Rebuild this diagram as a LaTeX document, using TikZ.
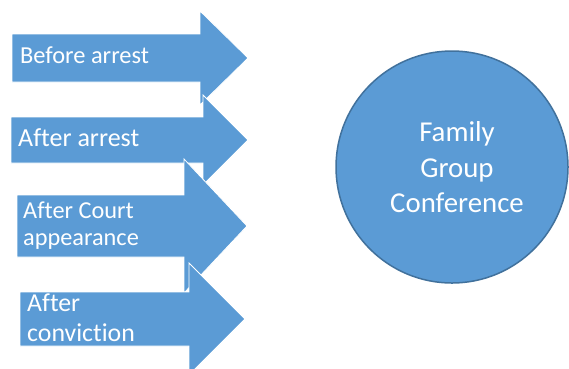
\documentclass[tikz,border=0pt]{standalone}
\usepackage{fontspec}
\setmainfont[Ligatures=NoCommon]{Carlito}
\definecolor{accent}{HTML}{5B9BD5}
\definecolor{accentdark}{HTML}{41719C}
\tikzset{
  arrowshape/.style={fill=accent, draw=white, line width=0.8pt, line join=miter},
  lbl/.style={text=white, inner sep=0pt, align=left},
}
\newcommand{\fatarrow}[7]{% left, top, bottom, headx, headtop, headbottom, tipx
  \draw[arrowshape] (#1,#2) -- (#4,#2) -- (#4,#5) -- (#7,{(#2+#3)/2}) -- (#4,#6) -- (#4,#3) -- (#1,#3) -- cycle;}
\begin{document}
\begin{tikzpicture}[x=1pt,y=-1pt]
\useasboundingbox (0,0) rectangle (569,368);
% arrows
\fatarrow{12}{34}{82}{200}{11}{105}{248}
\fatarrow{11}{117}{163}{203}{95}{185}{248}
\fatarrow{17}{195}{257}{184}{159}{293}{247}
\fatarrow{20}{292}{346}{189}{263}{375}{245}
% labels
\node[lbl, anchor=base west, font=\fontsize{24.4}{28}\selectfont] (l1) at (20,63) {Before arrest};
\node[lbl, anchor=base west, font=\fontsize{26}{30}\selectfont] (l2) at (18,146.5) {After arrest};
\node[lbl, anchor=west, font=\fontsize{24.3}{27}\selectfont] (l3) at (23,225.5) {After Court\\appearance};
\node[lbl, anchor=west, font=\fontsize{25.8}{30}\selectfont] (l4) at (27,318) {After\\conviction};
% circle
\node[circle, fill=accent, draw=accentdark, line width=1.5pt, minimum size=232pt, inner sep=0pt] (fgc) at (452,167) {};
\node[text=white, align=center, inner sep=0pt, font=\fontsize{28.8}{35.5}\selectfont] (fgct) at (457,167.5) {Family\\Group\\Conference};
\end{tikzpicture}
\end{document}
